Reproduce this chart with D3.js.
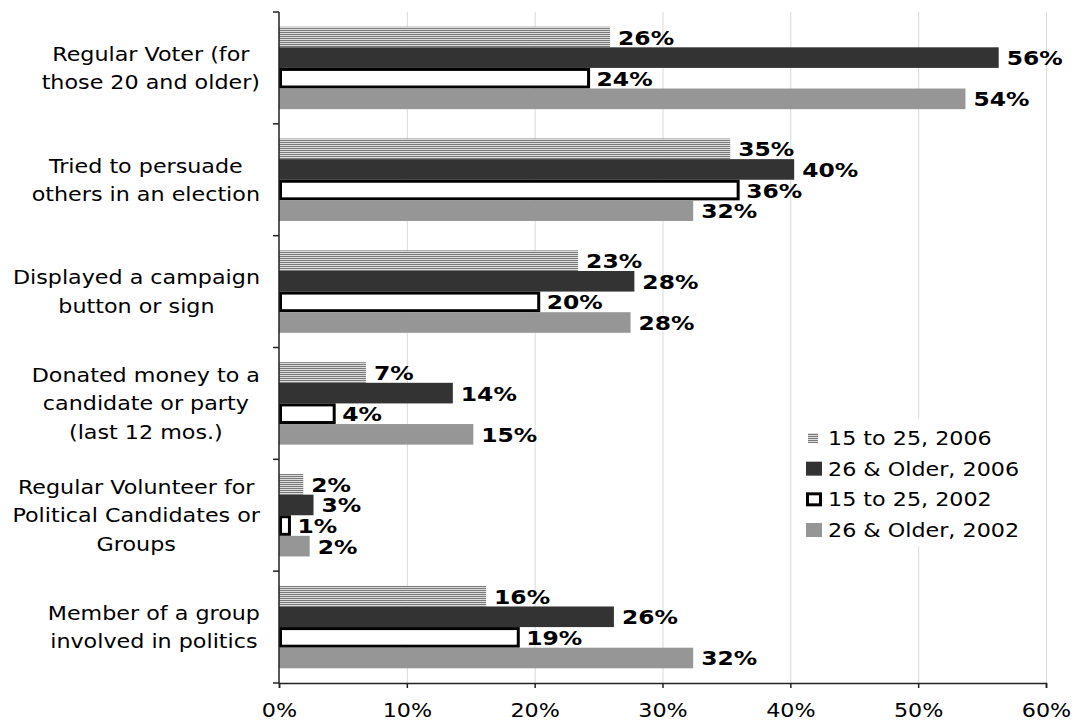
<!DOCTYPE html>
<html>
<head>
<meta charset="utf-8">
<script src="https://cdn.jsdelivr.net/npm/d3@7"></script>
<style>
  html, body { margin: 0; padding: 0; background: #fff; }
  svg { display: block; }
  text { font-family: "DejaVu Sans", Verdana, sans-serif; fill: #000; }
</style>
</head>
<body>
<svg id="chart" width="1075" height="725"></svg>
<script>
// Political participation by age group, 2002 vs 2006 (percent)
const categories = [
  ["Regular Voter (for", "those 20 and older)"],
  ["Tried to persuade", "others in an election"],
  ["Displayed a campaign", "button or sign"],
  ["Donated money to a", "candidate or party", "(last 12 mos.)"],
  ["Regular Volunteer for", "Political Candidates or", "Groups"],
  ["Member of a group", "involved in politics"]
];
const seriesNames = ["15 to 25, 2006", "26 & Older, 2006", "15 to 25, 2002", "26 & Older, 2002"];
const young2006 = [25.9, 35.3, 23.4, 6.8, 1.9, 16.2];
const older2006 = [56.3, 40.3, 27.8, 13.6, 2.7, 26.2];
const young2002 = [24.1, 35.8, 20.2, 4.2, 0.7, 18.6];
const older2002 = [53.7, 32.4, 27.5, 15.2, 2.4, 32.4];
const xTicks = [0, 10, 20, 30, 40, 50, 60];

const seriesValues = [young2006, older2006, young2002, older2002];
const STRETCH = 1.17;

const svg = d3.select("#chart");
const plotLeft = 279, plotRight = 1046, plotTop = 12, plotBottom = 683;

// stripe pattern for the 15-25 (2006) series
const defs = svg.append("defs");
const pat = defs.append("pattern")
  .attr("id", "stripes").attr("patternUnits", "userSpaceOnUse")
  .attr("width", 8).attr("height", 2);
pat.append("rect").attr("width", 8).attr("height", 2).attr("fill", "#dcdcdc");
pat.append("rect").attr("width", 8).attr("height", 1).attr("fill", "#7a7a7a");

const styles = [
  { fill: "url(#stripes)", stroke: "none", sw: 0 },
  { fill: "#333333", stroke: "none", sw: 0 },
  { fill: "#ffffff", stroke: "#000000", sw: 3 },
  { fill: "#969696", stroke: "none", sw: 0 }
];

const x = d3.scaleLinear().domain([0, 60]).range([plotLeft, plotRight]);
const catIdx = d3.range(categories.length);
const y = d3.scaleBand().domain(catIdx).range([plotTop, plotBottom])
  .paddingInner(0.263).paddingOuter(0.1315);
const ySub = d3.scaleBand().domain(d3.range(seriesNames.length)).range([0, y.bandwidth()]);

// gridlines
svg.append("g").selectAll("line").data(xTicks.filter(t => t > 0)).join("line")
  .attr("x1", d => x(d) + 0.5).attr("x2", d => x(d) + 0.5)
  .attr("y1", plotTop).attr("y2", plotBottom)
  .attr("stroke", "#d9d9d9").attr("stroke-width", 1);

// bars
const bars = svg.append("g");
seriesValues.forEach((vals, s) => {
  const st = styles[s];
  bars.append("g").selectAll("rect").data(vals).join("rect")
    .attr("x", d => x(0) + st.sw / 2)
    .attr("y", (d, i) => y(i) + ySub(s) + st.sw / 2)
    .attr("width", d => Math.max(0, x(d) - x(0)))
    .attr("height", ySub.bandwidth() - st.sw)
    .attr("fill", st.fill)
    .attr("stroke", st.stroke)
    .attr("stroke-width", st.sw);
});

// value labels
const fmt = v => Math.round(v) + "%";
const labels = svg.append("g");
seriesValues.forEach((vals, s) => {
  labels.append("g").selectAll("text").data(vals).join("text")
    .attr("class", "stretch")
    .attr("x", d => x(d) + 8 + styles[s].sw / 2)
    .attr("y", (d, i) => y(i) + ySub(s) + ySub.bandwidth() / 2 + 7.5)
    .attr("font-size", 20).attr("font-weight", "bold")
    .text(d => fmt(d));
});

// legend (white box hides gridlines behind it)
const legend = svg.append("g");
legend.append("rect").attr("x", 798).attr("y", 418).attr("width", 235).attr("height", 128).attr("fill", "#fff");
const rowY = d3.scalePoint().domain(d3.range(seriesNames.length)).range([438, 530]);
seriesNames.forEach((name, s) => {
  const cy = rowY(s);
  if (s === 0) {
    legend.append("rect").attr("x", 808).attr("y", cy - 5).attr("width", 10).attr("height", 10)
      .attr("fill", "url(#stripes)");
  } else if (s === 2) {
    legend.append("rect").attr("x", 807.5).attr("y", cy - 5.5).attr("width", 13).attr("height", 11)
      .attr("fill", "#fff").attr("stroke", "#000").attr("stroke-width", 3);
  } else {
    legend.append("rect").attr("x", 806).attr("y", cy - 7).attr("width", 16).attr("height", 14)
      .attr("fill", styles[s].fill);
  }
  legend.append("text").attr("class", "stretch")
    .attr("x", 828).attr("y", cy + 7).attr("font-size", 19).text(name);
});

// x axis
const xAxis = d3.axisBottom(x).tickValues(xTicks).tickFormat(d => d + "%").tickSizeOuter(0).tickSize(5).tickPadding(16);
const gx = svg.append("g").attr("transform", `translate(0,${plotBottom})`).call(xAxis);
gx.select(".domain").attr("stroke", "#222").attr("stroke-width", 1.5);
gx.selectAll(".tick line").attr("stroke", "#222").attr("stroke-width", 1.5);
gx.selectAll(".tick text").attr("class", "stretch")
  .attr("font-size", 19).attr("font-family", "DejaVu Sans, Verdana, sans-serif").attr("fill", "#000");

// y axis line with ticks at category boundaries
svg.append("line").attr("x1", plotLeft).attr("x2", plotLeft).attr("y1", plotTop).attr("y2", plotBottom)
  .attr("stroke", "#222").attr("stroke-width", 1.5);
const boundaries = d3.range(categories.length + 1).map(i => plotTop + i * y.step());
svg.append("g").selectAll("line").data(boundaries).join("line")
  .attr("x1", plotLeft - 6).attr("x2", plotLeft).attr("y1", d => d).attr("y2", d => d)
  .attr("stroke", "#222").attr("stroke-width", 1.5);

// category labels: lines centered within a block, block right-aligned to the axis
const catG = svg.append("g");
const lineH = 28.5;
categories.forEach((lines, i) => {
  const cyBand = y(i) + y.bandwidth() / 2;
  const g = catG.append("g");
  const texts = lines.map((ln, k) => g.append("text")
    .attr("class", "stretch")
    .attr("text-anchor", "middle")
    .attr("font-size", 19)
    .attr("y", cyBand + (k - (lines.length - 1) / 2) * lineH + 7)
    .text(ln));
  const maxW = d3.max(texts, t => t.node().getComputedTextLength() * STRETCH);
  texts.forEach(t => t.attr("x", 260 - maxW / 2));
});

// widen glyphs to match the chart's typeface proportions
svg.selectAll("text.stretch").each(function() {
  const len = this.getComputedTextLength();
  d3.select(this).attr("textLength", len * STRETCH).attr("lengthAdjust", "spacingAndGlyphs");
});
</script>
</body>
</html>
